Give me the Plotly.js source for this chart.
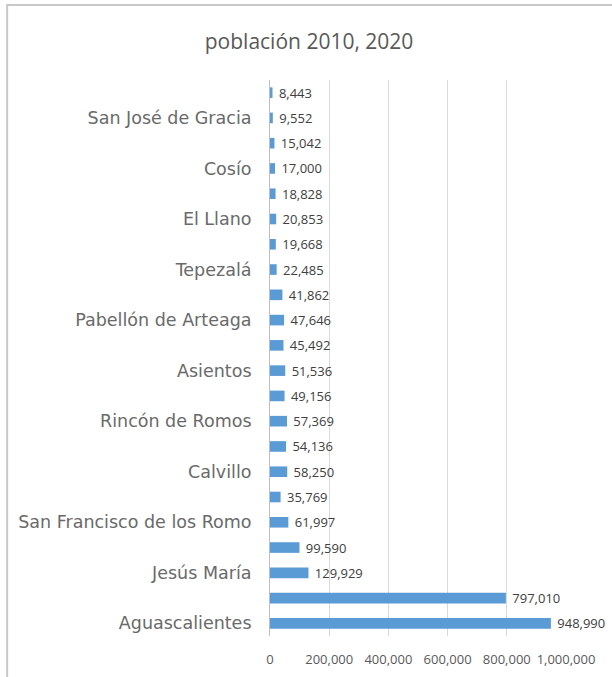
<!DOCTYPE html>
<html>
<head>
<meta charset="utf-8">
<script src="https://cdn.plot.ly/plotly-3.0.1.min.js"></script>
<style>html,body{margin:0;padding:0;background:#fff;}#chart{width:612px;height:677px;}</style>
</head>
<body>
<div id="chart"></div>
<script>
// Municipalities, listed top to bottom as in the chart
const municipios = ["San José de Gracia","Cosío","El Llano","Tepezalá","Pabellón de Arteaga","Asientos","Rincón de Romos","Calvillo","San Francisco de los Romo","Jesús María","Aguascalientes"];
const pob2010 = [8443,15042,18828,19668,41862,45492,49156,54136,35769,99590,797010];
const pob2020 = [9552,17000,20853,22485,47646,51536,57369,58250,61997,129929,948990];
const xTicks = [0,200000,400000,600000,800000,1000000];

// Build the 22 categories: each municipality has an unlabeled 2010 row above its labeled 2020 row
const cats = [], vals = [], labels = [];
for (let i = municipios.length - 1; i >= 0; i--) {
  cats.push(municipios[i] + " 2020"); vals.push(pob2020[i]); labels.push(municipios[i]);
  cats.push(municipios[i] + " 2010"); vals.push(pob2010[i]); labels.push("");
}

const trace = {
  type: "bar", orientation: "h",
  y: cats, x: vals,
  marker: {color: "#5B9BD5"},
  texttemplate: "\u00a0%{x:,}", textposition: "outside", constraintext: "none", textangle: 0,
  textfont: {family: "Open Sans, sans-serif", size: 13, color: "#404040"},
  cliponaxis: false, hoverinfo: "none"
};

const layout = {
  width: 612, height: 677,
  margin: {l: 270, r: 46, t: 80, b: 41},
  paper_bgcolor: "#ffffff", plot_bgcolor: "#ffffff",
  bargap: 0.58,
  showlegend: false,
  title: {text: "población 2010, 2020", x: 0.505, xref: "container", xanchor: "center", y: 0.938, yanchor: "middle",
          font: {family: "Open Sans, sans-serif", size: 21, color: "#595959"}},
  font: {family: "Open Sans, sans-serif", color: "#595959"},
  xaxis: {range: [0, 1000000], tickvals: xTicks, tickformat: ",", showgrid: true, gridcolor: "#d9d9d9", gridwidth: 1,
          zeroline: false, showline: false, ticks: "outside", ticklen: 11, tickcolor: "rgba(0,0,0,0)",
          tickfont: {family: "Open Sans, sans-serif", size: 13, color: "#595959"}, fixedrange: true},
  yaxis: {type: "category", categoryorder: "array", categoryarray: cats, tickvals: cats, ticktext: labels,
          showline: true, linecolor: "#bfbfbf", linewidth: 1, showgrid: false, zeroline: false,
          ticks: "outside", ticklen: 14, tickcolor: "rgba(0,0,0,0)",
          tickfont: {family: "DejaVu Sans, sans-serif", size: 17.5, color: "#6a6a6a"}, fixedrange: true},
  shapes: [{type: "rect", xref: "paper", yref: "paper", x0: -0.888, x1: 1.4, y0: -0.2, y1: 1.135,
            line: {color: "#c8c8c8", width: 2}, fillcolor: "rgba(0,0,0,0)", layer: "below"}]
};

Plotly.newPlot("chart", [trace], layout, {displayModeBar: false, staticPlot: true});
</script>
</body>
</html>
